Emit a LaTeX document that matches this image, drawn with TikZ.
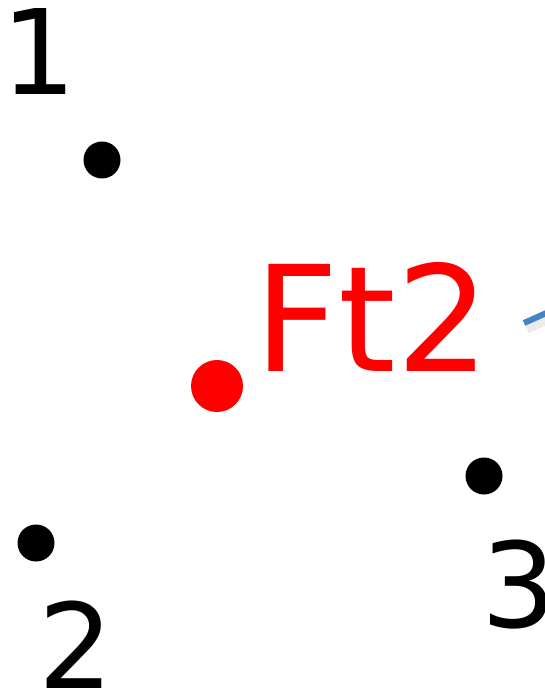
\documentclass[tikz,border=0pt]{standalone}
\usepackage{fontspec}
\setmainfont{DejaVu Sans}
\usetikzlibrary{positioning, calc}

\definecolor{pointblue}{RGB}{70,130,200}

\begin{document}
\begin{tikzpicture}[
    x=1pt, y=-1pt,
    point/.style={circle, fill=black, inner sep=0pt, minimum size=37pt},
    feature/.style={circle, fill=red, inner sep=0pt, minimum size=52pt},
    num/.style={inner sep=0pt, anchor=base, font=\fontsize{118}{118}\selectfont},
    ftlabel/.style={inner sep=0pt, anchor=base, text=red, font=\fontsize{147}{147}\selectfont},
    pointer/.style={pointblue, line width=6pt}
]
    \useasboundingbox (0,0) rectangle (544,692);

    \node[point] (p1) at (102,160) {};
    \node[point] (p2) at (36,543) {};
    \node[point] (p3) at (484,476) {};
    \node[feature] (ft) at (217,386) {};

    \node[num] (n1) at (39,95) {1};
    \node[num] (n2) at (76,688) {2};
    \node[num] (n3) at (519,627) {3};
    \node[ftlabel] (ftname) at (372,371) {Ft2};

    \coordinate (tail) at (524,323);
    \coordinate (head) at (580,298);
    \draw[black!8, line width=9pt] ($(tail)+(3,6)$) -- ($(head)+(3,6)$);
    \draw[pointer] (tail) -- (head);
\end{tikzpicture}
\end{document}
